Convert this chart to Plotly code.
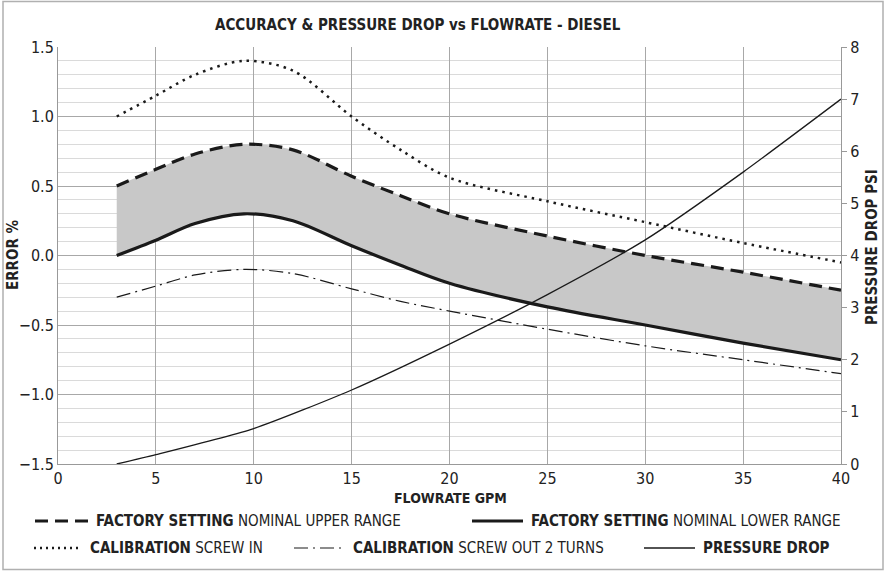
import plotly.graph_objects as go

# ---------------- data ----------------
flow = [3, 5, 7, 9.5, 12, 15, 17.5, 20, 25, 30, 35, 40]
upper_range = [0.50, 0.62, 0.73, 0.80, 0.76, 0.57, 0.43, 0.30, 0.14, 0.00, -0.12, -0.25]
lower_range = [0.00, 0.11, 0.23, 0.30, 0.25, 0.07, -0.07, -0.20, -0.37, -0.50, -0.63, -0.75]
screw_in = [1.00, 1.15, 1.30, 1.40, 1.33, 1.00, 0.76, 0.56, 0.39, 0.24, 0.09, -0.05]
screw_out = [-0.30, -0.22, -0.14, -0.10, -0.13, -0.24, -0.33, -0.40, -0.53, -0.65, -0.75, -0.85]
pd_flow = [3, 5, 10, 15, 20, 25, 30, 35, 40]
pressure_drop = [0.0, 0.18, 0.68, 1.42, 2.3, 3.25, 4.3, 5.6, 7.0]

x_ticks = [0, 5, 10, 15, 20, 25, 30, 35, 40]
title_text = "ACCURACY & PRESSURE DROP vs FLOWRATE - DIESEL"

FONT = "Liberation Sans Narrow, DejaVu Sans Condensed, Roboto, sans-serif"
W, H = 886, 572
L, R, T, B = 58, 841, 47, 464

def px(xp):
    return (xp - L) / (R - L)

def py(yp):
    return (B - yp) / (B - T)

fig = go.Figure()

fig.add_trace(go.Scatter(x=flow, y=upper_range, mode="lines",
                         line=dict(color="#1a1a1a", width=3.2, dash="13px,7px", shape="spline", smoothing=0.9),
                         showlegend=False))
fig.add_trace(go.Scatter(x=flow, y=lower_range, mode="lines", fill="tonexty", fillcolor="#c8c8c8",
                         line=dict(color="#1a1a1a", width=3.2, shape="spline", smoothing=0.9),
                         showlegend=False))
fig.add_trace(go.Scatter(x=flow, y=screw_in, mode="lines",
                         line=dict(color="#1a1a1a", width=2.5, dash="2.5px,5px", shape="spline", smoothing=0.9),
                         showlegend=False))
fig.add_trace(go.Scatter(x=flow, y=screw_out, mode="lines",
                         line=dict(color="#1a1a1a", width=1.2, dash="14px,5px,2px,5px", shape="spline", smoothing=0.9),
                         showlegend=False))
fig.add_trace(go.Scatter(x=pd_flow, y=pressure_drop, mode="lines", yaxis="y2",
                         line=dict(color="#1a1a1a", width=1.3, shape="spline", smoothing=0.6),
                         showlegend=False))

fig.update_layout(
    width=W, height=H,
    margin=dict(l=L, r=W - R, t=T, b=H - B),
    paper_bgcolor="white", plot_bgcolor="white",
    font=dict(family=FONT, color="#222", size=16),
    xaxis=dict(range=[0, 40], tickvals=x_ticks, showgrid=True, gridcolor="#a8a8a8", gridwidth=1,
               showline=True, linecolor="#999", linewidth=1, zeroline=False, ticks="",
               tickfont=dict(size=16, family=FONT), automargin=False),
    yaxis=dict(range=[-1.5, 1.5], dtick=0.5, tickformat=".1f", showgrid=True, gridcolor="#a8a8a8",
               gridwidth=1, zeroline=False, showline=True, linecolor="#999", ticks="",
               minor=dict(dtick=0.1, showgrid=True, gridcolor="#dadada", gridwidth=1),
               tickfont=dict(size=16, family=FONT), automargin=False),
    yaxis2=dict(range=[0, 8], dtick=1, overlaying="y", side="right", showgrid=False, zeroline=False,
                showline=True, linecolor="#999", ticks="outside", ticklen=5, tickcolor="#999",
                tickfont=dict(size=16, family=FONT), automargin=False),
)

ann = []
def add_text(text, x, y, angle=0, xanchor="center", size=15):
    ann.append(dict(text=text, x=px(x), y=py(y), xref="paper", yref="paper", textangle=angle,
                    xanchor=xanchor, yanchor="middle", showarrow=False,
                    font=dict(size=size, family=FONT, color="#222")))

add_text("<b>" + title_text + "</b>", 418, 25)
add_text("<b>FLOWRATE GPM</b>", 450, 498, size=14)
add_text("<b>ERROR %</b>", 13, 255, angle=-90)
add_text("<b>PRESSURE DROP PSI</b>", 872, 247, angle=-90)

legend_items = [
    ("<b>FACTORY SETTING</b> NOMINAL UPPER RANGE", 35, 88, 521, dict(width=3.2, dash="13px,7px")),
    ("<b>FACTORY SETTING</b> NOMINAL LOWER RANGE", 472, 523, 521, dict(width=3.2, dash="solid")),
    ("<b>CALIBRATION</b> SCREW IN", 34, 82, 548, dict(width=2.5, dash="2px,4px")),
    ("<b>CALIBRATION</b> SCREW OUT 2 TURNS", 294, 345, 548, dict(width=1.2, dash="14px,5px,2px,5px")),
    ("<b>PRESSURE DROP</b>", 644, 695, 548, dict(width=1.3, dash="solid")),
]
shapes = []
for text, x0, x1, yy, ls in legend_items:
    shapes.append(dict(type="line", xref="paper", yref="paper", x0=px(x0), x1=px(x1), y0=py(yy), y1=py(yy),
                       line=dict(color="#1a1a1a", **ls)))
    add_text(text, x1 + 6, yy, xanchor="left")

shapes.append(dict(type="rect", xref="paper", yref="paper", x0=px(3), x1=px(883), y0=py(1.5), y1=py(569.5),
                   line=dict(color="#b0b0b0", width=1.5), layer="below"))

fig.update_layout(annotations=ann, shapes=shapes)
fig.write_html("out.html", config={"displayModeBar": False},
               post_script="document.body.style.margin='0';document.body.style.overflow='hidden';")
